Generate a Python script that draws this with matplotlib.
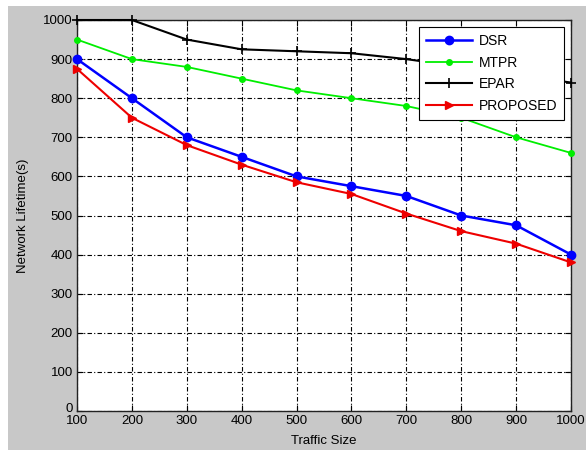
import matplotlib.pyplot as plt
import matplotlib.transforms as mtransforms
from matplotlib.patches import Rectangle

plt.rcParams['font.family'] = ['Liberation Sans', 'DejaVu Sans']

# Data
traffic = [100, 200, 300, 400, 500, 600, 700, 800, 900, 1000]
dsr = [900, 800, 700, 650, 600, 575, 550, 500, 475, 400]
mtpr = [950, 900, 880, 850, 820, 800, 780, 750, 700, 660]
epar = [1000, 1000, 950, 925, 920, 915, 900, 880, 860, 840]
proposed = [875, 750, 680, 630, 585, 555, 505, 460, 428, 380]

fig = plt.figure(figsize=(5.86, 4.5), dpi=100, facecolor='white')
# gray matlab-style figure background, offset from the white edge
fig.patches.append(Rectangle((8 / 586, 0), 1, 1 - 6 / 450, transform=fig.transFigure,
                             facecolor='#c8c8c8', edgecolor='none', zorder=-10))

ax = fig.add_axes([77 / 586, 39 / 450, 494 / 586, 391 / 450])
ax.set_facecolor('white')

ax.plot(traffic, dsr, color='#0000ff', marker='o', markersize=6, lw=1.8,
        label='DSR', clip_on=False, zorder=3)
ax.plot(traffic, mtpr, color='#00ee00', marker='.', markersize=8, lw=1.3,
        label='MTPR', clip_on=False, zorder=3)
ax.plot(traffic, epar, color='black', marker='+', markersize=7, mew=1.2, lw=1.5,
        label='EPAR', clip_on=False, zorder=3)
ax.plot(traffic, proposed, color='#ee0000', marker='>', markersize=6, lw=1.5,
        label='PROPOSED', clip_on=False, zorder=3)

ax.set_xlim(100, 1000)
ax.set_ylim(0, 1000)
ax.set_xticks(traffic)
ax.set_yticks(range(0, 1001, 100))
ax.grid(True, color='black', linestyle=(0, (4, 2, 1, 2)), linewidth=0.8)
ax.tick_params(direction='in', length=4, top=True, right=True, labelsize=9.5, pad=3)
for s in ax.spines.values():
    s.set_linewidth(1.0)
    s.set_color('#222222')

# nudge the "0" label up a little so it sits above the "100" below it
fig.canvas.draw()
zero_lbl = ax.get_yticklabels()[0]
zero_lbl.set_transform(zero_lbl.get_transform() +
                       mtransforms.ScaledTranslation(0, 3 / 100, fig.dpi_scale_trans))

ax.set_xlabel('Traffic Size', fontsize=9.5, labelpad=6)
ax.set_ylabel('Network Lifetime(s)', fontsize=9.5, labelpad=10)

leg = ax.legend(loc='upper right', fontsize=10, fancybox=False, framealpha=1,
                edgecolor='black', borderaxespad=0.5, handlelength=3.3,
                labelspacing=0.55, borderpad=0.5, handletextpad=0.5)
leg.get_frame().set_linewidth(0.8)
leg.set_zorder(5)

fig.savefig('out.png', dpi=100, facecolor=fig.get_facecolor())
